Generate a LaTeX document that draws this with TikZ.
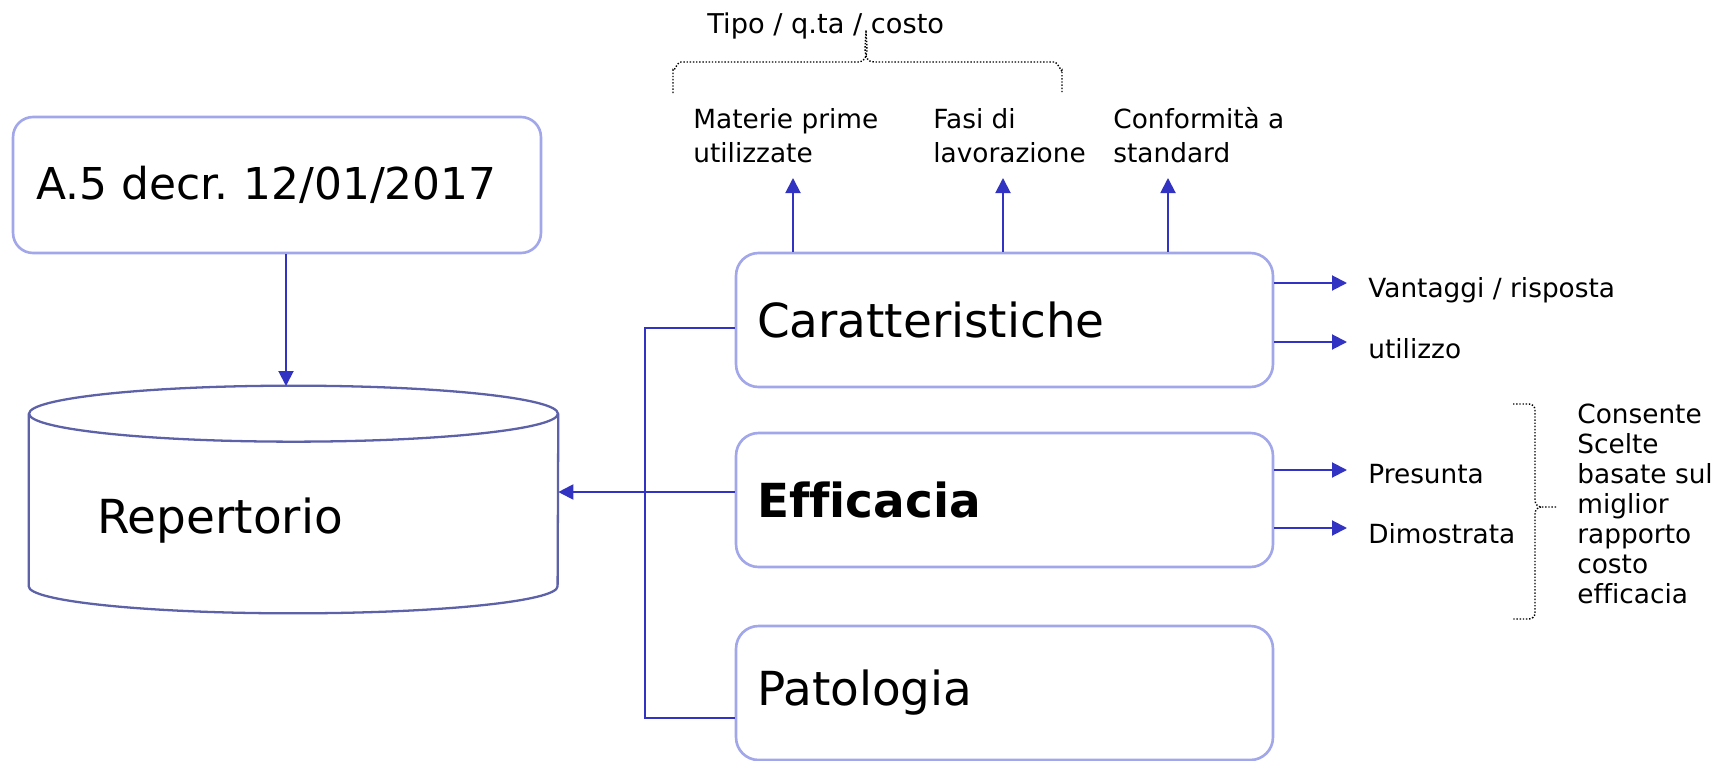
\documentclass[tikz,border=0pt]{standalone}
\usepackage{fontspec}
\setmainfont{DejaVu Sans}[Ligatures=NoCommon]
\usetikzlibrary{arrows.meta}

\definecolor{linkblue}{RGB}{50,50,195}
\definecolor{boxlav}{RGB}{162,167,234}
\definecolor{cylblue}{RGB}{92,97,168}

% big baselineskip: the strut of the line puts the text a bit below the middle
\newcommand{\boxfont}{\fontsize{26.7pt}{61pt}\selectfont}
\newcommand{\decrfont}{\fontsize{25pt}{43pt}\selectfont}
\newcommand{\labfont}{\fontsize{15pt}{18.8pt}\selectfont}

\tikzset{
	box/.style={draw=boxlav, line width=1.5pt, rounded corners=0.45cm,
		minimum width=10.74cm, minimum height=2.68cm, inner xsep=0.42cm,
		text width=9.9cm, align=left, font=\boxfont},
	link/.style={draw=linkblue, line width=1.1pt},
	tip/.style={link, -{Triangle[length=0.3cm,width=0.3cm]}},
	lab/.style={inner sep=0pt, align=left, font=\labfont},
	brace/.style={densely dotted, line width=0.8pt},
	cyl/.style={draw=cylblue, line width=1.3pt}
}

\begin{document}
\frenchspacing
\begin{tikzpicture}[x=0.02cm, y=-0.02cm]
	\useasboundingbox (0,0) rectangle (1715,761);
	
	\node[box, minimum width=10.56cm, minimum height=2.72cm, inner xsep=0.46cm, text width=9.64cm, rounded corners=0.4cm, font=\decrfont] (decr) at (277,185) {A.5 decr. 12/01/2017};
	
	% repertorio
	\node[minimum width=10.58cm, minimum height=3.44cm, inner sep=0pt] (repertorio) at (293.5,500) {};
	
	\draw[cyl] (repertorio.north) ellipse [x radius=5.29cm, y radius=0.56cm];
	
	\draw[cyl] (repertorio.north west) -- (repertorio.south west) arc[start angle=180, end angle=360, x radius=5.29cm, y radius=0.54cm] -- (repertorio.north east);
	
	\node[anchor=base west, inner sep=0pt, font=\boxfont] (reptext) at (97,533) {Repertorio};
	
	\coordinate (reptop) at (286,386);
	
	\draw[tip] (decr.south -| reptop) -- (reptop);
	
	% the three boxes
	\node[box] (caratt) at (1004.5,320) {Caratteristiche};
	
	\node[box, font=\boxfont\bfseries] (effic) at (1004.5,500) {Efficacia};
	
	\node[box] (patol) at (1004.5,693) {\raisebox{-0.14cm}{Patologia}};
	
	\draw[link] ([yshift=-0.16cm]caratt.west) -- ++(-1.8cm,0) |- ([yshift=-0.5cm]patol.west);
	
	\coordinate (effout) at ([yshift=0.16cm]effic.west);
	
	\draw[tip] (effout) -- (effout -| repertorio.east);
	
	% upwards
	\coordinate (upmat) at (793,178);
	\coordinate (upfasi) at (1003,178);
	\coordinate (upconf) at (1168,178);
	
	\draw[tip] (caratt.north -| upmat) -- (upmat);
	\draw[tip] (caratt.north -| upfasi) -- (upfasi);
	\draw[tip] (caratt.north -| upconf) -- (upconf);
	
	\node[lab, anchor=base west] (materie) at (693,162) {Materie prime\\utilizzate};
	
	\node[lab, anchor=base west] (fasi) at (933,162) {Fasi di\\lavorazione};
	
	\node[lab, anchor=base west] (conform) at (1113,162) {Conformità a\\standard};
	
	\node[lab, anchor=base west, font=\fontsize{15.5pt}{18.8pt}\selectfont] (tipo) at (707,33) {Tipo / q.ta / costo};
	
	\draw[brace] (673,93) -- (673,70) to[out=-90,in=180] (681,62) -- (858,62) to[out=0,in=-90] (866,30) to[out=-90,in=180] (874,62) -- (1054,62) to[out=0,in=-90] (1062,70) -- (1062,93);
	
	% to the right
	\coordinate (rtvant) at (1347,283);
	\coordinate (rtutil) at (1347,342);
	\coordinate (rtpres) at (1347,470);
	\coordinate (rtdim) at (1347,528);
	
	\draw[tip] (caratt.east |- rtvant) -- (rtvant);
	\draw[tip] (caratt.east |- rtutil) -- (rtutil);
	\draw[tip] (effic.east |- rtpres) -- (rtpres);
	\draw[tip] (effic.east |- rtdim) -- (rtdim);
	
	\node[lab, anchor=base west] (vant) at (1368,297) {Vantaggi / risposta};
	
	\node[lab, anchor=base west] (util) at (1368,358) {utilizzo};
	
	\node[lab, anchor=base west] (pres) at (1368,483) {Presunta};
	
	\node[lab, anchor=base west] (dimo) at (1368,543) {Dimostrata};
	
	\draw[brace] (1513,404) -- (1529,404) to[out=0,in=90] (1535,410) -- (1535,500) to[out=-90,in=180] (1541,507) -- (1557,507);
	
	\draw[brace] (1541,507) to[out=180,in=90] (1535,514) -- (1535,613) to[out=-90,in=0] (1529,619) -- (1513,619);
	
	\node[lab, anchor=base west, font=\fontsize{15pt}{17pt}\selectfont] (consente) at (1577,603) {Consente\\Scelte\\basate sul\\miglior\\rapporto\\costo\\efficacia};
	
\end{tikzpicture}
\end{document}
